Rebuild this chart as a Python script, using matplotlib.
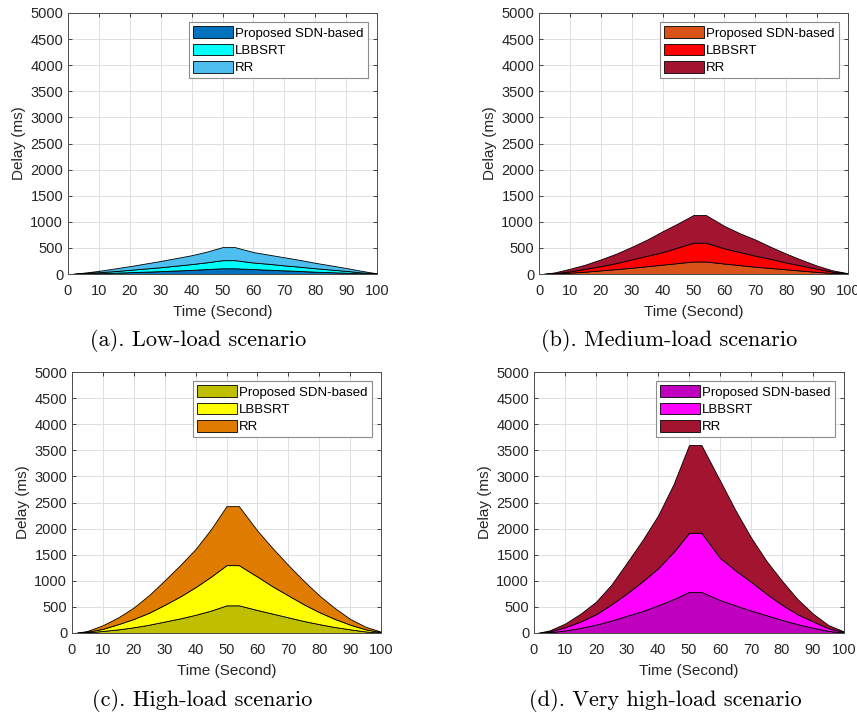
import matplotlib
matplotlib.use("Agg")
import matplotlib.pyplot as plt
import numpy as np

plt.rcParams["font.family"] = ["Liberation Sans", "DejaVu Sans"]

# time axis (s)
time_s = [1, 5, 10, 15, 20, 25, 30, 35, 40, 45, 50, 54, 60, 65, 70, 75, 80, 85, 90, 95, 100]

# stacked boundaries (ms): top of Proposed, top of LBBSRT, top of RR
low_prop_top = [0, 6, 15, 25, 35, 45, 55, 68, 80, 95, 110, 110, 95, 82, 70, 58, 45, 35, 25, 12, 3]
low_lbb_top = [0, 15, 35, 55, 80, 105, 130, 160, 190, 225, 265, 265, 220, 195, 165, 140, 110, 85, 60, 30, 8]
low_rr_top = [0, 25, 60, 105, 150, 200, 250, 305, 360, 430, 515, 515, 420, 370, 320, 270, 215, 165, 115, 60, 12]

med_prop_top = [0, 8, 25, 45, 70, 95, 120, 150, 180, 210, 240, 240, 200, 170, 140, 115, 90, 65, 40, 20, 5]
med_lbb_top = [0, 15, 50, 100, 150, 210, 280, 350, 420, 510, 600, 600, 490, 420, 350, 290, 220, 160, 100, 45, 10]
med_rr_top = [0, 30, 100, 180, 280, 390, 520, 660, 820, 970, 1130, 1130, 920, 780, 660, 520, 390, 270, 160, 70, 15]

high_prop_top = [0, 12, 40, 70, 110, 160, 220, 280, 350, 430, 530, 530, 440, 370, 300, 230, 170, 115, 70, 30, 5]
high_lbb_top = [0, 25, 80, 170, 270, 390, 540, 700, 880, 1080, 1300, 1300, 1080, 890, 720, 550, 400, 270, 160, 70, 15]
high_rr_top = [0, 40, 150, 300, 490, 730, 1010, 1300, 1610, 1990, 2430, 2430, 1960, 1620, 1300, 1000, 720, 480, 270, 120, 25]

vhigh_prop_top = [0, 15, 50, 100, 160, 240, 330, 420, 530, 650, 785, 785, 630, 530, 430, 340, 250, 170, 100, 40, 10]
vhigh_lbb_top = [0, 30, 110, 220, 360, 550, 760, 990, 1240, 1550, 1920, 1920, 1440, 1200, 980, 750, 540, 360, 220, 90, 20]
vhigh_rr_top = [0, 50, 180, 370, 600, 930, 1350, 1780, 2250, 2850, 3600, 3600, 2920, 2350, 1830, 1380, 1000, 650, 370, 150, 30]

series_names = ["Proposed SDN-based", "LBBSRT", "RR"]

panels = [
    ("(a). Low-load scenario", [low_prop_top, low_lbb_top, low_rr_top],
     ["#0072BD", "#00FFFF", "#4DBEEE"], [68, 377, 13, 274]),
    ("(b). Medium-load scenario", [med_prop_top, med_lbb_top, med_rr_top],
     ["#D95319", "#FF0000", "#A2142F"], [539, 848, 13, 274]),
    ("(c). High-load scenario", [high_prop_top, high_lbb_top, high_rr_top],
     ["#BFBF00", "#FFFF00", "#DF7C00"], [72, 381, 372, 633]),
    ("(d). Very high-load scenario", [vhigh_prop_top, vhigh_lbb_top, vhigh_rr_top],
     ["#BF00BF", "#FF00FF", "#A2142F"], [534, 844, 372, 633]),
]

W, H = 857, 716
fig = plt.figure(figsize=(W / 100, H / 100), dpi=100)

for caption, tops, colors, (x0, x1, y0, y1) in panels:
    ax = fig.add_axes([x0 / W, 1 - y1 / H, (x1 - x0) / W, (y1 - y0) / H])
    lower = np.zeros(len(time_s))
    for name, top, col in zip(series_names, tops, colors):
        ax.fill_between(time_s, lower, top, facecolor=col, edgecolor="black",
                        linewidth=0.6, label=name, zorder=2)
        lower = np.array(top)
    ax.set_xlim(0, 100)
    ax.set_ylim(0, 5000)
    ax.set_xticks(range(0, 101, 10))
    ax.set_yticks(range(0, 5001, 500))
    ax.grid(True, color="#E0E0E0", linewidth=0.7, zorder=0)
    ax.set_axisbelow(True)
    ax.tick_params(direction="in", top=True, right=True, length=3,
                   labelsize=10.5, colors="#262626", width=0.6)
    ax.tick_params(axis="x", pad=7)
    for sp in ax.spines.values():
        sp.set_color("#4D4D4D")
        sp.set_linewidth(0.7)
    ax.set_xlabel("Time (Second)", fontsize=11, color="#262626", labelpad=5)
    ax.set_ylabel("Delay (ms)", fontsize=11, color="#262626", labelpad=3)
    leg = ax.legend(loc="upper right", fontsize=9.5, handlelength=3.0,
                    handleheight=1.0, labelspacing=0.3, handletextpad=0.2,
                    borderpad=0.3, borderaxespad=0.7, fancybox=False,
                    framealpha=1)
    leg.get_frame().set_edgecolor("#8C8C8C")
    leg.get_frame().set_linewidth(0.8)
    cx = ((x0 + x1) / 2 - 24) / W
    fig.text(cx, 1 - (y1 + 67) / H, caption, ha="center", va="center",
             fontsize=16, family=["cmr10", "DejaVu Serif"])

fig.savefig("out.png", dpi=100)
